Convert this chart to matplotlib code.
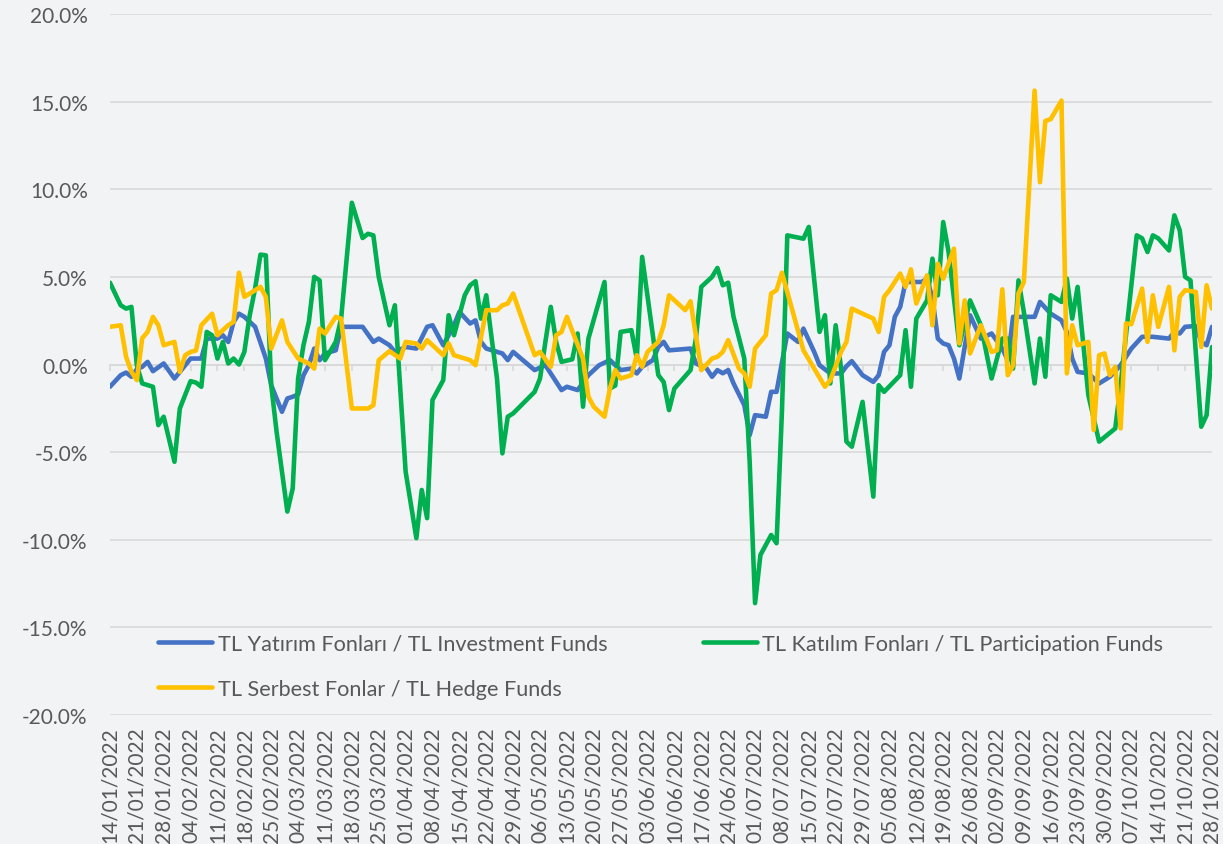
import matplotlib.pyplot as plt
from matplotlib.ticker import FuncFormatter

plt.rcParams['font.family'] = ['Lato', 'DejaVu Sans']

# weekly labels (every 5th business day)
tick_labels = ['14/01/2022', '21/01/2022', '28/01/2022', '04/02/2022', '11/02/2022', '18/02/2022',
               '25/02/2022', '04/03/2022', '11/03/2022', '18/03/2022', '25/03/2022', '01/04/2022',
               '08/04/2022', '15/04/2022', '22/04/2022', '29/04/2022', '06/05/2022', '13/05/2022',
               '20/05/2022', '27/05/2022', '03/06/2022', '10/06/2022', '17/06/2022', '24/06/2022',
               '01/07/2022', '08/07/2022', '15/07/2022', '22/07/2022', '29/07/2022', '05/08/2022',
               '12/08/2022', '19/08/2022', '26/08/2022', '02/09/2022', '09/09/2022', '16/09/2022',
               '23/09/2022', '30/09/2022', '07/10/2022', '14/10/2022', '21/10/2022', '28/10/2022']

# series vertices: business-day index -> value (%)
inv_day = [0, 2, 3, 4, 5, 6, 7, 8, 10, 12, 14, 15, 17, 18, 20, 21, 22, 23, 24, 25, 27, 29, 30,
           32, 33, 34, 35, 36, 37, 38, 39, 40, 42, 43, 47, 49, 50, 52, 53, 55, 57, 59, 60, 62,
           64, 65, 67, 68, 69, 70, 72, 73, 74, 75, 79, 81, 82, 84, 85, 87, 89, 91, 93, 95, 97,
           98, 99, 101, 102, 103, 104, 108, 109, 111, 112, 113, 114, 115, 116, 118, 119, 120,
           122, 123, 124, 126, 128, 129, 131, 132, 134, 136, 137, 138, 140, 142, 143, 144, 145,
           146, 147, 148, 151, 152, 153, 154, 155, 156, 157, 158, 160, 162, 164, 166, 167, 168,
           172, 173, 175, 177, 178, 179, 180, 182, 184, 186, 188, 190, 192, 194, 197, 198, 199,
           200, 202, 203, 204, 205]
inv_val = [-1.27, -0.61, -0.46, -0.7, -0.27, -0.13, 0.15, -0.38, 0.06, -0.8, -0.04, 0.34, 0.34,
           1.48, 1.48, 1.67, 1.29, 2.43, 2.9, 2.72, 2.15, 0.34, -1.18, -2.7, -1.94, -1.84, -1.71,
           -0.61, -0.04, 0.91, 0.25, 0.63, 0.81, 2.15, 2.15, 1.29, 1.48, 1.1, 0.72, 1.0, 0.91, 2.15,
           2.24, 1.1, 2.24, 3.0, 2.34, 2.52, 1.3, 0.91, 0.72, 0.63, 0.25, 0.72, -0.32, -0.04, -0.51,
           -1.46, -1.27, -1.46, -0.61, -0.04, 0.25, -0.32, -0.23, -0.51, -0.13, 0.25, 1.0, 1.29,
           0.81, 0.91, 0.06, -0.23, -0.7, -0.32, -0.5, -0.32, -1.08, -2.32, -4.03, -2.89, -2.98,
           -1.56, -1.56, 1.77, 1.29, 2.05, 0.72, -0.04, -0.51, -0.51, -0.1, 0.19, -0.61, -0.99,
           -0.61, 0.72, 1.1, 2.72, 3.29, 4.71, 4.71, 4.9, 3.76, 1.48, 1.2, 1.1, 0.34, -0.8, 2.81,
           1.48, 1.77, 0.91, 0.25, 2.72, 2.72, 3.57, 2.9, 2.52, 1.86, 0.34, -0.42, -0.51, -1.08,
           -0.7, -0.04, 0.91, 1.58, 1.58, 1.48, 1.86, 1.77, 2.15, 2.2, 1.29, 1.1, 2.15]

par_day = [0, 2, 3, 4, 5, 6, 8, 9, 10, 12, 13, 15, 16, 17, 18, 19, 20, 21, 22, 23, 24, 25, 26,
           27, 28, 29, 30, 31, 33, 34, 35, 36, 37, 38, 39, 40, 42, 43, 45, 47, 48, 49, 50, 52, 53,
           55, 57, 58, 59, 60, 62, 63, 64, 66, 67, 68, 69, 70, 71, 72, 73, 74, 75, 79, 80, 81, 82,
           83, 84, 86, 87, 88, 89, 92, 93, 94, 95, 97, 98, 99, 102, 103, 104, 105, 108, 109, 110,
           112, 113, 114, 115, 116, 118, 119, 120, 121, 123, 124, 125, 126, 129, 130, 132, 133,
           134, 135, 136, 137, 138, 140, 142, 143, 144, 147, 148, 149, 150, 152, 153, 154, 155,
           156, 158, 160, 162, 164, 166, 167, 168, 169, 170, 172, 173, 174, 175, 177, 178, 179,
           180, 182, 184, 187, 188, 191, 192, 193, 194, 195, 197, 198, 199, 200, 201, 203, 204, 205]
par_val = [4.67, 3.38, 3.19, 3.29, -0.04, -1.08, -1.27, -3.46, -2.98, -5.55, -2.51, -0.95, -1.03,
           -1.27, 1.86, 1.67, 0.34, 1.29, 0.06, 0.34, 0.0, 0.72, 2.81, 4.33, 6.27, 6.23, -1.18,
           -3.84, -8.39, -7.07, -0.8, 1.1, 2.43, 5.0, 4.8, 0.25, 1.29, 2.62, 9.23, 7.22, 7.46, 7.37,
           5.0, 2.24, 3.38, -6.11, -9.91, -7.16, -8.77, -2.03, -0.89, 2.81, 1.67, 3.95, 4.52, 4.75,
           2.62, 3.95, 1.5, -0.8, -5.07, -2.98, -2.79, -1.56, -0.8, 1.29, 3.29, 1.29, 0.15, 0.3,
           1.77, -2.41, 1.48, 4.71, -1.37, -1.2, 1.86, 1.96, 0.34, 6.14, -0.6, -1.0, -2.6, -1.37,
           -0.32, 1.48, 4.43, 5.0, 5.51, 4.52, 4.67, 2.72, 0.34, -5.55, -13.62, -10.87, -9.73,
           -10.2, -2.7, 7.37, 7.18, 7.85, 1.86, 2.81, -1.08, 2.24, -0.23, -4.4, -4.69, -2.13, -7.54,
           -1.18, -1.56, -0.61, 1.96, -1.27, 2.62, 3.66, 6.04, 3.95, 8.13, 6.42, 1.1, 3.66, 2.24,
           -0.8, 1.48, 1.48, -0.23, 4.8, 3.0, -1.08, 1.48, -0.7, 3.95, 3.57, 4.9, 2.62, 4.43, -1.75,
           -4.4, -3.65, -1.18, 7.37, 7.2, 6.42, 7.37, 7.2, 6.51, 8.51, 7.66, 5.0, 4.8, -3.55, -2.89,
           1.0]

hed_day = [0, 2, 3, 4, 5, 6, 7, 8, 9, 10, 11, 12, 13, 14, 15, 16, 17, 19, 20, 21, 22, 23, 24,
           25, 26, 28, 29, 30, 32, 33, 34, 35, 37, 38, 39, 40, 41, 42, 43, 45, 48, 49, 50, 52, 54,
           55, 57, 58, 59, 62, 63, 64, 67, 68, 70, 72, 73, 74, 75, 79, 80, 82, 83, 84, 85, 88, 89,
           90, 92, 93, 94, 95, 97, 98, 99, 100, 102, 103, 104, 107, 108, 110, 112, 113, 114, 115,
           117, 118, 119, 120, 122, 123, 124, 125, 129, 133, 134, 136, 137, 138, 140, 142, 143,
           144, 145, 147, 148, 149, 150, 152, 153, 154, 155, 157, 158, 159, 160, 162, 164, 165,
           166, 167, 168, 169, 170, 172, 173, 174, 175, 177, 178, 179, 180, 182, 183, 184, 185,
           186, 187, 188, 189, 190, 192, 193, 194, 195, 197, 198, 199, 200, 202, 203, 204, 205]
hed_val = [2.15, 2.24, 0.44, -0.42, -0.89, 1.5, 1.86, 2.72, 2.24, 1.1, 1.2, 1.29, -0.42, 0.53,
           0.72, 0.8, 2.24, 2.9, 1.67, 1.96, 2.24, 2.43, 5.24, 3.86, 4.05, 4.43, 3.86, 0.91, 2.52,
           1.29, 0.81, 0.34, 0.06, -0.23, 2.05, 1.77, 2.24, 2.72, 2.62, -2.51, -2.51, -2.32, 0.25,
           0.76, 0.34, 1.29, 1.2, 0.91, 1.39, 0.53, 1.2, 0.53, 0.25, -0.04, 3.1, 3.1, 3.38, 3.48,
           4.05, 0.53, 0.72, -0.13, 1.67, 1.86, 2.72, 0.34, -1.84, -2.41, -2.98, -1.37, -0.32, -0.8,
           -0.61, 0.53, -0.13, 0.72, 1.29, 2.24, 3.95, 3.1, 3.61, -0.32, 0.34, 0.44, 0.72, 1.39,
           -0.23, -0.51, -1.27, 0.91, 1.67, 4.05, 4.24, 5.24, 0.81, -1.27, -0.89, 0.72, 1.29, 3.19,
           2.9, 2.62, 1.86, 3.86, 4.24, 5.19, 4.43, 5.43, 3.48, 5.09, 2.24, 5.75, 4.9, 6.61, 1.2,
           3.66, 0.63, 2.24, 0.72, 0.81, 4.29, -0.61, -0.04, 4.05, 4.71, 15.63, 10.4, 13.9, 14.0,
           15.06, -0.51, 2.24, 1.1, 1.29, -3.74, 0.53, 0.63, -0.61, -0.13, -3.65, 2.34, 2.3, 4.33,
           1.29, 3.95, 2.15, 4.43, 0.81, 3.86, 4.24, 4.14, 1.0, 4.52, 3.19]

series_names = ['TL Yatırım Fonları / TL Investment Funds',
                'TL Katılım Fonları / TL Participation Funds',
                'TL Serbest Fonlar / TL Hedge Funds']
colors = ['#4472C4', '#00B050', '#FFC000']
text_color = '#595959'
grid_color = '#d9d9d9'
bg = '#f2f3f5'

fig = plt.figure(figsize=(12.23, 8.45), dpi=100, facecolor=bg)
ax = fig.add_axes([0.0899, 0.1527, 0.9011, 0.8295])
ax.set_facecolor(bg)

lines = []
for d, v, c, name in zip([inv_day, par_day, hed_day], [inv_val, par_val, hed_val], colors, series_names):
    ln, = ax.plot(d, v, color=c, lw=3.3, label=name, solid_joinstyle='round',
                  solid_capstyle='round', zorder=3)
    lines.append(ln)

ax.set_xlim(0, 205)
ax.set_ylim(-20, 20)
ax.set_yticks(range(-20, 21, 5))
ax.yaxis.set_major_formatter(FuncFormatter(lambda v, p: f'{v:.1f}%'))
ax.yaxis.grid(True, color=grid_color, lw=1.2)
ax.set_axisbelow(True)
ax.tick_params(axis='y', length=0, pad=16, labelsize=15, labelcolor=text_color)

for s in ['left', 'right', 'top']:
    ax.spines[s].set_visible(False)
ax.spines['bottom'].set_position(('data', 0))
ax.spines['bottom'].set_color(grid_color)
ax.spines['bottom'].set_linewidth(1.2)
tick_pos = list(range(0, 206, 5))
ax.set_xticks(tick_pos)
ax.tick_params(axis='x', direction='out', length=4, color=grid_color, width=1.2, labelbottom=False)

sec = ax.secondary_xaxis('bottom')
sec.set_xticks(tick_pos, labels=tick_labels, rotation=90)
sec.tick_params(length=0, pad=8, labelsize=15, labelcolor=text_color)
sec.spines['bottom'].set_visible(False)

ax.legend(handles=[lines[0], lines[2], lines[1]], ncol=2, loc='upper left',
          bbox_to_anchor=(0.0436, 0.116), frameon=False, fontsize=15.6, labelcolor=text_color,
          handlelength=2.5, handletextpad=0.25, columnspacing=4.4, labelspacing=1.15,
          borderpad=0, borderaxespad=0)

fig.savefig('out.png', dpi=100, facecolor=bg)
